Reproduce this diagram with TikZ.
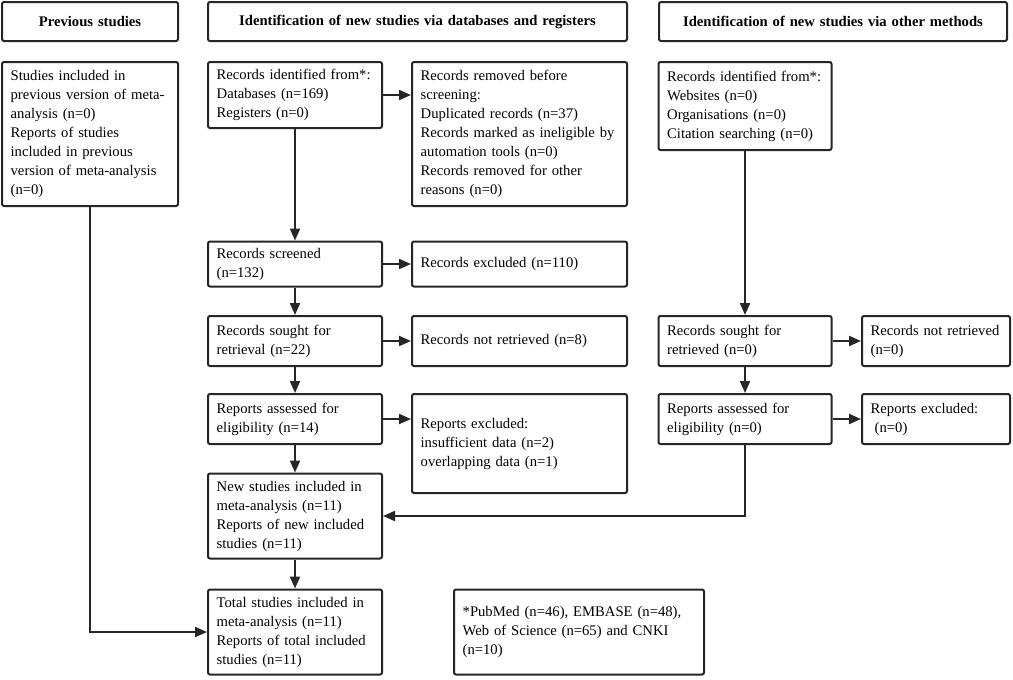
\documentclass[tikz,border=0pt]{standalone}
\usepackage{fontspec}
\setmainfont{Liberation Serif}
\usepackage{tikz}
\usetikzlibrary{arrows.meta}
\definecolor{ink}{HTML}{262626}

\begin{document}
\begin{tikzpicture}[x=0.75pt, y=-0.75pt,
    box/.style={draw=ink, line width=1.5pt, rounded corners=1.5pt, align=left,
        inner xsep=6.5pt, inner ysep=0pt, font=\fontsize{11}{14.25}\selectfont},
    head/.style={box, align=center, font=\fontsize{11}{14.25}\selectfont\bfseries},
    arr/.style={draw=ink, line width=1.5pt, -{Triangle[length=9pt,width=7.5pt]}}]
    \useasboundingbox (0,0) rectangle (1013,679);

    \node [head, text width=119pt, minimum height=29.25pt] (hprev) at (90,21.5) {Previous studies};
    \node [head, text width=301.25pt, minimum height=29.25pt] (hdb) at (417.5,21.5) {Identification of new studies via databases and registers};
    \node [head, text width=248pt, minimum height=29.25pt] (hoth) at (833,21.5) {Identification of new studies via other methods};

    \node [box, text width=119pt, minimum height=108pt] (prev) at (90,134) {Studies included in\\previous version of meta-\\analysis (n=0)\\Reports of studies\\included in previous\\version of meta-analysis\\(n=0)};

    \node [box, text width=117.5pt, minimum height=49.5pt] (ident) at (295,95) {Records identified from*:\\Databases (n=169)\\Registers (n=0)};
    \node [box, text width=148.25pt, minimum height=108pt] (removed) at (519.5,134) {Records removed before\\screening:\\Duplicated records (n=37)\\Records marked as ineligible by\\automation tools (n=0)\\Records removed for other\\reasons (n=0)};
    \node [box, text width=117.5pt, minimum height=33.75pt] (screened) at (295,264) {Records screened\\(n=132)};
    \node [box, text width=148.25pt, minimum height=33.75pt] (excluded) at (519.5,264) {Records excluded (n=110)};
    \node [box, text width=117.5pt, minimum height=37.5pt] (sought) at (295,341) {Records sought for\\retrieval (n=22)};
    \node [box, text width=148.25pt, minimum height=37.5pt] (notret) at (519.5,341) {Records not retrieved (n=8)};
    \node [box, text width=117.5pt, minimum height=37.5pt] (assessed) at (295,419) {Reports assessed for\\eligibility (n=14)};
    \node [box, text width=148.25pt, minimum height=74.25pt] (repexcl) at (519.5,443.5) {Reports excluded:\\insufficient data (n=2)\\overlapping data (n=1)};
    \node [box, text width=117.5pt, minimum height=63.75pt] (newinc) at (295,516) {New studies included in\\meta-analysis (n=11)\\Reports of new included\\studies (n=11)};
    \node [box, text width=117.5pt, minimum height=63.75pt] (total) at (295,632) {Total studies included in\\meta-analysis (n=11)\\Reports of total included\\studies (n=11)};
    \node [box, text width=174.5pt, minimum height=63.75pt] (note) at (579,632) {*PubMed (n=46), EMBASE (n=48),\\Web of Science (n=65) and CNKI\\(n=10)};

    \node [box, text width=116.75pt, minimum height=66pt] (identoth) at (745,106) {Records identified from*:\\Websites (n=0)\\Organisations (n=0)\\Citation searching (n=0)};
    \node [box, text width=116.75pt, minimum height=37.5pt] (soughtoth) at (745,341) {Records sought for\\retrieved (n=0)};
    \node [box, text width=98pt, minimum height=37.5pt] (notretoth) at (936,341) {Records not retrieved\\(n=0)};
    \node [box, text width=116.75pt, minimum height=37.5pt] (assessedoth) at (745,419) {Reports assessed for\\eligibility (n=0)};
    \node [box, text width=98pt, minimum height=37.5pt] (repexcloth) at (936,419) {Reports excluded:\\\hspace*{3pt}(n=0)};

    \draw [arr] (ident.east) -- (ident.east -| removed.west);
    \draw [arr] (ident) -- (screened);
    \draw [arr] (screened) -- (excluded);
    \draw [arr] (screened) -- (sought);
    \draw [arr] (sought) -- (notret);
    \draw [arr] (sought) -- (assessed);
    \draw [arr] (assessed.east) -- (assessed.east -| repexcl.west);
    \draw [arr] (assessed) -- (newinc);
    \draw [arr] (newinc) -- (total);
    \draw [arr] (prev.south) |- (total.west);

    \draw [arr] (identoth) -- (soughtoth);
    \draw [arr] (soughtoth) -- (notretoth);
    \draw [arr] (soughtoth) -- (assessedoth);
    \draw [arr] (assessedoth) -- (repexcloth);
    \draw [arr] (assessedoth.south) |- (newinc.east);
\end{tikzpicture}
\end{document}
